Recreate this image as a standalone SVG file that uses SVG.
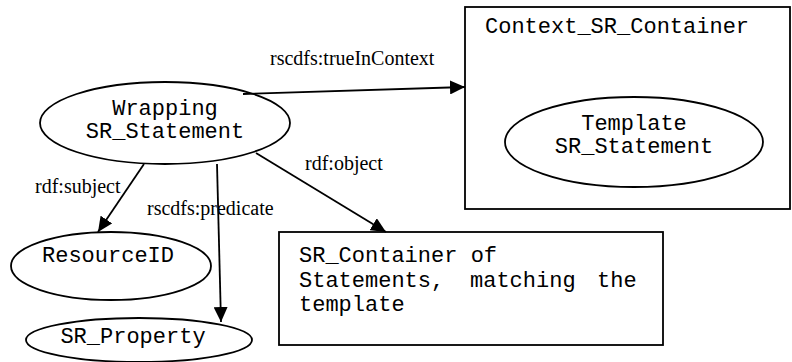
<svg xmlns="http://www.w3.org/2000/svg" width="792" height="362" viewBox="0 0 792 362">
<style>
.shape{fill:#fff;stroke:#000;stroke-width:1.8}
.mono{font-family:"Liberation Mono","Courier New",monospace;font-size:22px;fill:#000}
.lbl{font-family:"Liberation Serif","Times New Roman",serif;font-size:20px;fill:#000}
.edge{stroke:#000;stroke-width:1.8;fill:none;marker-end:url(#ah)}
</style>
<defs>
<marker id="ah" markerUnits="userSpaceOnUse" markerWidth="16" markerHeight="14" refX="15" refY="7" orient="auto">
<path d="M0,0 L15,7 L0,14 Z" fill="#000"/>
</marker>
</defs>
<rect width="792" height="362" fill="#fff"/>
<g id="context">
<rect class="shape" x="465" y="7" width="325" height="202"/>
<text class="mono" x="485" y="33">Context_SR_Container</text>
</g>
<g id="template">
<ellipse class="shape" cx="634" cy="142" rx="129" ry="45"/>
<text class="mono" text-anchor="middle" x="634" y="130">Template</text>
<text class="mono" text-anchor="middle" x="634" y="153">SR_Statement</text>
</g>
<g id="wrapping">
<ellipse class="shape" cx="165" cy="123" rx="125" ry="41"/>
<text class="mono" text-anchor="middle" x="165" y="115">Wrapping</text>
<text class="mono" text-anchor="middle" x="165" y="138">SR_Statement</text>
</g>
<g id="resourceid">
<ellipse class="shape" cx="111" cy="266" rx="100" ry="34"/>
<text class="mono" text-anchor="middle" x="108" y="262">ResourceID</text>
</g>
<g id="property">
<ellipse class="shape" cx="139" cy="340" rx="113" ry="22"/>
<text class="mono" text-anchor="middle" x="133" y="343">SR_Property</text>
</g>
<g id="container">
<rect class="shape" x="279" y="232" width="384" height="113"/>
<text class="mono" x="299" y="262">SR_Container of</text>
<text class="mono" y="287"><tspan x="299">Statements,</tspan><tspan x="470">matching</tspan><tspan x="597">the</tspan></text>
<text class="mono" x="299" y="311">template</text>
</g>
<g id="connectors">
<line class="edge" x1="243" y1="94" x2="465" y2="87"/>
<line class="edge" x1="144" y1="164" x2="98" y2="232"/>
<line class="edge" x1="217" y1="164" x2="221" y2="322"/>
<line class="edge" x1="256" y1="153" x2="386" y2="232"/>
<text class="lbl" x="270" y="65">rscdfs:trueInContext</text>
<text class="lbl" x="305" y="170">rdf:object</text>
<text class="lbl" x="35" y="193">rdf:subject</text>
<text class="lbl" x="147" y="215">rscdfs:predicate</text>
</g>
</svg>
